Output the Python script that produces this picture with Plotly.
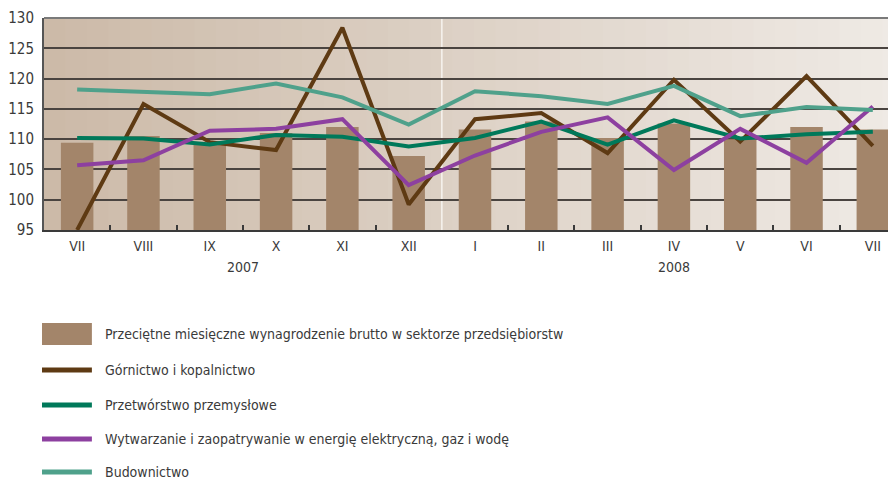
import plotly.graph_objects as go

# ---------------- data ----------------
months = ["VII", "VIII", "IX", "X", "XI", "XII", "I", "II", "III", "IV", "V", "VI", "VII"]
years = ["2007", "2008"]
year_first_idx = [0, 6]
year_last_idx = [5, 12]

wynagrodzenie = [109.4, 110.5, 109.3, 111.0, 112.0, 107.2, 111.6, 112.9, 110.2, 112.6, 110.0, 112.0, 111.6]
gornictwo = [95.0, 115.8, 109.5, 108.2, 128.4, 99.2, 113.3, 114.3, 107.7, 119.8, 109.6, 120.4, 108.9]
przetworstwo = [110.2, 110.1, 109.1, 110.7, 110.4, 108.8, 110.2, 112.9, 109.1, 113.1, 110.1, 110.8, 111.2]
wytwarzanie = [105.7, 106.5, 111.4, 111.7, 113.3, 102.4, 107.3, 111.2, 113.6, 104.9, 111.7, 106.1, 115.4]
budownictwo = [118.2, 117.8, 117.4, 119.2, 116.9, 112.4, 117.9, 117.1, 115.8, 118.8, 113.8, 115.3, 114.8]

bar_name = "Przeciętne miesięczne wynagrodzenie brutto w sektorze przedsiębiorstw"
line_names = ["Górnictwo i kopalnictwo", "Przetwórstwo przemysłowe",
              "Wytwarzanie i zaopatrywanie w energię elektryczną, gaz i wodę", "Budownictwo"]
line_values = [gornictwo, przetworstwo, wytwarzanie, budownictwo]
y_ticks = [95, 100, 105, 110, 115, 120, 125, 130]

# ---------------- style ----------------
W, H = 896, 481
L, R, T = 34, 0, 10
BOTTOM = 222
B = H - BOTTOM
bar_color = "#a3856a"
line_colors = ["#5e3a13", "#00795a", "#8d40a0", "#4fa18b"]
FONT = "Liberation Sans Narrow, DejaVu Sans Condensed, Arial Narrow, sans-serif"
TXT = "#3a3a3a"

plot_h = H - T - B
plot_w = W - L - R


def py(pix):
    return 1 - (pix - T) / plot_h


def px(pix):
    return (pix - L) / plot_w


x = list(range(len(months)))

fig = go.Figure()
fig.add_trace(go.Bar(x=x, y=wynagrodzenie, base=0, marker=dict(color=bar_color, line=dict(width=0)),
                     width=0.49, name=bar_name, showlegend=False))
for name, vals, col in zip(line_names, line_values, line_colors):
    fig.add_trace(go.Scatter(x=x, y=vals, mode="lines", name=name,
                             line=dict(color=col, width=4), showlegend=False))

shapes = []
# gradient background in vertical strips
n = 40
c0 = (204, 186, 168)
c1 = (239, 234, 229)
for i in range(n):
    t = i / (n - 1)
    c = tuple(round(a + (b - a) * t) for a, b in zip(c0, c1))
    shapes.append(dict(type="rect", xref="x domain", yref="y domain",
                       x0=i / n, x1=(i + 1) / n + 0.002, y0=0, y1=1,
                       fillcolor="rgb(%d,%d,%d)" % c, line=dict(width=0), layer="below"))
# white separator between years
shapes.append(dict(type="line", xref="x", yref="y domain", x0=5.5, x1=5.5, y0=0, y1=1,
                   line=dict(color="#f7f3ef", width=1.5), layer="below"))
# top border line
shapes.append(dict(type="line", xref="x domain", yref="y domain", x0=0, x1=1, y0=1, y1=1,
                   line=dict(color="#7a7a7a", width=2), layer="above"))

annotations = []
for yr, a, b in zip(years, year_first_idx, year_last_idx):
    annotations.append(dict(x=(a + b) / 2, xref="x", y=py(259), yref="paper", text=yr,
                            showarrow=False, font=dict(family=FONT, size=14, color=TXT),
                            xanchor="center", yanchor="middle"))

# manual legend
leg_rows = [326, 362, 397, 431, 464]
sw0, sw1, tx0 = 32, 82, 93
shapes.append(dict(type="rect", xref="paper", yref="paper", x0=px(sw0), x1=px(sw1),
                   y0=py(leg_rows[0] + 11), y1=py(leg_rows[0] - 11), fillcolor=bar_color,
                   line=dict(width=0)))
annotations.append(dict(x=px(tx0), y=py(leg_rows[0]), xref="paper", yref="paper", text=bar_name,
                        showarrow=False, xanchor="left", yanchor="middle",
                        font=dict(family=FONT, size=14, color=TXT)))
for name, col, ry in zip(line_names, line_colors, leg_rows[1:]):
    shapes.append(dict(type="line", xref="paper", yref="paper", x0=px(sw0), x1=px(sw1),
                       y0=py(ry), y1=py(ry), line=dict(color=col, width=5)))
    annotations.append(dict(x=px(tx0), y=py(ry), xref="paper", yref="paper", text=name,
                            showarrow=False, xanchor="left", yanchor="middle",
                            font=dict(family=FONT, size=14, color=TXT)))

fig.update_layout(
    width=W, height=H,
    margin=dict(l=L, r=R, t=T, b=B, pad=0),
    paper_bgcolor="white",
    plot_bgcolor="#e0d4c8",
    bargap=0.5,
    shapes=shapes,
    annotations=annotations,
    showlegend=False,
    xaxis=dict(
        range=[-0.5, 12.47], tickmode="array", tickvals=x, ticktext=months,
        ticks="", showgrid=False, zeroline=False,
        showline=True, linecolor="#3a3a3a", linewidth=2,
        tickfont=dict(family=FONT, size=14, color=TXT), ticklabelstandoff=2,
        minor=dict(tickmode="array", tickvals=[i + 0.5 for i in range(12) if i != 5],
                   ticks="inside", ticklen=5, tickcolor="#3a3a3a", tickwidth=1.5, showgrid=False),
        fixedrange=True,
    ),
    yaxis=dict(
        range=[95, 130], tickmode="array", tickvals=y_ticks,
        showgrid=True, gridcolor="#4a4440", gridwidth=1.5, zeroline=False,
        showline=True, linecolor="#555555", linewidth=2,
        ticks="", tickfont=dict(family=FONT, size=15, color=TXT), ticklabelstandoff=5,
        fixedrange=True,
    ),
)

fig.write_html("out.html")
